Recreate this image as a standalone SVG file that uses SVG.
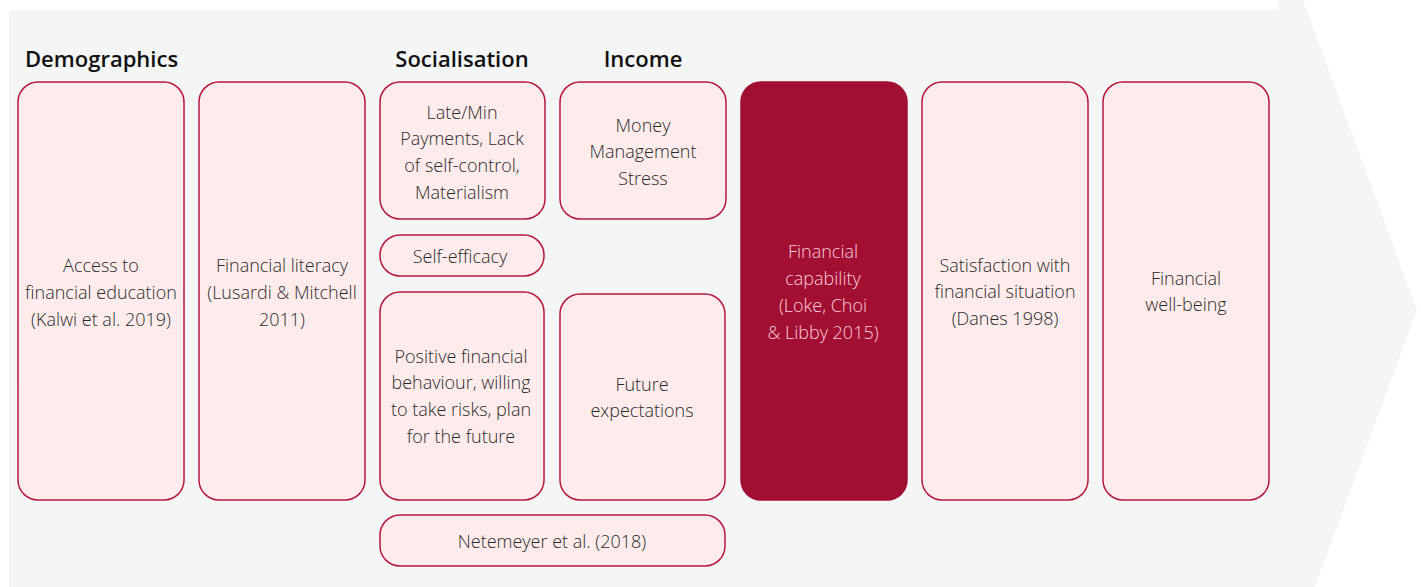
<svg xmlns="http://www.w3.org/2000/svg" width="1421" height="587" viewBox="0 0 1421 587">
  <style>
    .box { fill: #fdeceb; stroke: #b5173f; stroke-width: 1.5; }
    .key { fill: #a30e33; stroke: #a30e33; stroke-width: 1.5; }
    .txt { font-family: "Open Sans", "Liberation Sans", sans-serif; font-size: 18px; font-weight: 300; fill: #2a2a2a; text-anchor: middle; }
    .txt-light { font-family: "Open Sans", "Liberation Sans", sans-serif; font-size: 18px; font-weight: 300; fill: #f7d0d9; text-anchor: middle; }
    .head { font-family: "Open Sans", "Liberation Sans", sans-serif; font-size: 22px; font-weight: 600; fill: #111111; }
  </style>

  <!-- backdrop arrow -->
  <polygon points="9,10 1278,10 1278,0 1303,0 1417,310 1315,587 9,587" fill="#f4f5f5"/>

  <!-- column headings -->
  <g id="headings">
    <text class="head" x="25" y="67">Demographics</text>
    <text class="head" x="462" y="67" text-anchor="middle">Socialisation</text>
    <text class="head" x="643" y="67" text-anchor="middle">Income</text>
  </g>

  <!-- connectors: none drawn in this layout -->
  <g id="connectors"></g>

  <g id="access">
    <rect class="box" x="18" y="82" width="166" height="418" rx="20"/>
    <text class="txt" x="101" y="272">Access to</text>
    <text class="txt" x="101" y="299">financial education</text>
    <text class="txt" x="101" y="326">(Kalwi et al. 2019)</text>
  </g>

  <g id="literacy">
    <rect class="box" x="199" y="82" width="166" height="418" rx="20"/>
    <text class="txt" x="282" y="272">Financial literacy</text>
    <text class="txt" x="282" y="299">(Lusardi &amp; Mitchell</text>
    <text class="txt" x="282" y="326">2011)</text>
  </g>

  <g id="payments">
    <rect class="box" x="380" y="82" width="165" height="137" rx="20"/>
    <text class="txt" x="462" y="119">Late/Min</text>
    <text class="txt" x="462" y="145">Payments, Lack</text>
    <text class="txt" x="462" y="172">of self-control,</text>
    <text class="txt" x="462" y="199">Materialism</text>
  </g>

  <g id="self-efficacy">
    <rect class="box" x="380" y="235" width="164" height="41" rx="20"/>
    <text class="txt" x="460" y="263">Self-efficacy</text>
  </g>

  <g id="behaviour">
    <rect class="box" x="380" y="292" width="164" height="208" rx="20"/>
    <text class="txt" x="461" y="363">Positive financial</text>
    <text class="txt" x="461" y="389">behaviour, willing</text>
    <text class="txt" x="461" y="416">to take risks, plan</text>
    <text class="txt" x="461" y="443">for the future</text>
  </g>

  <g id="stress">
    <rect class="box" x="560" y="82" width="166" height="137" rx="20"/>
    <text class="txt" x="643" y="132">Money</text>
    <text class="txt" x="643" y="158">Management</text>
    <text class="txt" x="643" y="185">Stress</text>
  </g>

  <g id="expectations">
    <rect class="box" x="560" y="294" width="165" height="206" rx="20"/>
    <text class="txt" x="642" y="391">Future</text>
    <text class="txt" x="642" y="417">expectations</text>
  </g>

  <g id="netemeyer">
    <rect class="box" x="380" y="515" width="345" height="51" rx="20"/>
    <text class="txt" x="552" y="548">Netemeyer et al. (2018)</text>
  </g>

  <g id="capability">
    <rect class="key" x="741" y="82" width="166" height="418" rx="20"/>
    <text class="txt-light" x="823" y="258">Financial</text>
    <text class="txt-light" x="823" y="285">capability</text>
    <text class="txt-light" x="823" y="312">(Loke, Choi</text>
    <text class="txt-light" x="823" y="339">&amp; Libby 2015)</text>
  </g>

  <g id="satisfaction">
    <rect class="box" x="922" y="82" width="166" height="418" rx="20"/>
    <text class="txt" x="1005" y="272">Satisfaction with</text>
    <text class="txt" x="1005" y="298">financial situation</text>
    <text class="txt" x="1005" y="325">(Danes 1998)</text>
  </g>

  <g id="wellbeing">
    <rect class="box" x="1103" y="82" width="166" height="418" rx="20"/>
    <text class="txt" x="1186" y="285">Financial</text>
    <text class="txt" x="1186" y="311">well-being</text>
  </g>
</svg>
